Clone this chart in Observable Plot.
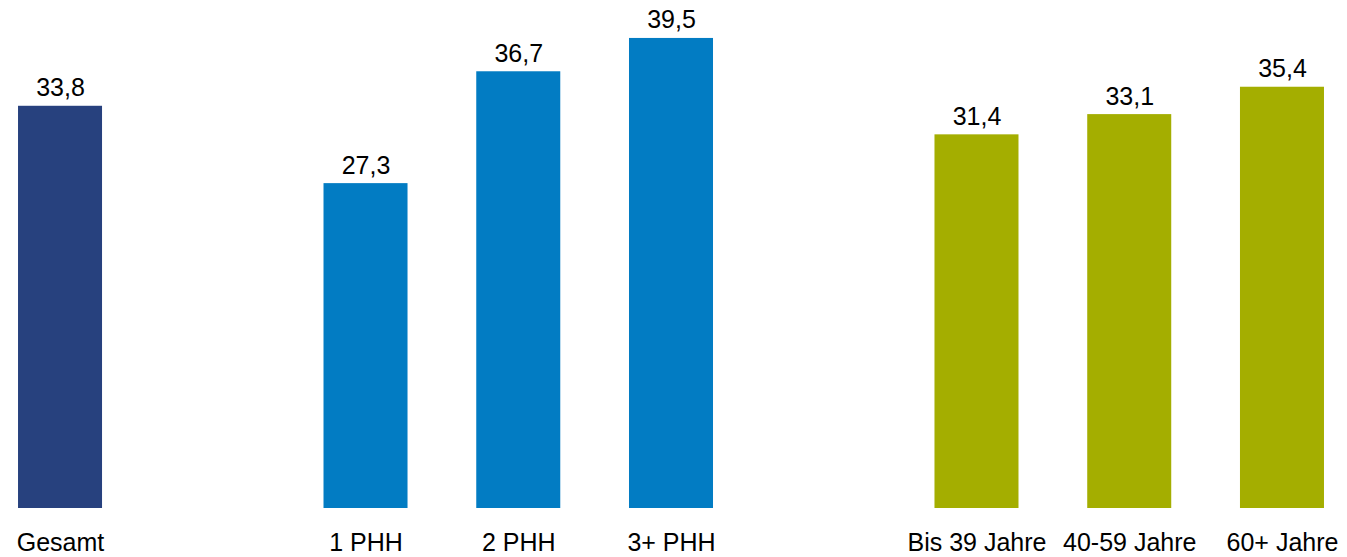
<!DOCTYPE html>
<html>
<head>
<meta charset="utf-8">
<script src="https://cdn.jsdelivr.net/npm/d3@7"></script>
<script src="https://cdn.jsdelivr.net/npm/@observablehq/plot@0.6"></script>
<style>
  html, body { margin: 0; padding: 0; background: #fff; }
  #chart svg { display: block; }
</style>
</head>
<body>
<div id="chart"></div>
<script>
const categories = ["Gesamt", "_gap1", "1 PHH", "2 PHH", "3+ PHH", "_gap2", "Bis 39 Jahre", "40-59 Jahre", "60+ Jahre"];
const barCategories = ["Gesamt", "1 PHH", "2 PHH", "3+ PHH", "Bis 39 Jahre", "40-59 Jahre", "60+ Jahre"];
const values = [33.8, 27.3, 36.7, 39.5, 31.4, 33.1, 35.4];
const groups = ["gesamt", "haushalt", "haushalt", "haushalt", "alter", "alter", "alter"];
const groupNames = ["gesamt", "haushalt", "alter"];
const groupColors = ["#27417E", "#027CC3", "#A4AE00"];

const data = barCategories.map((c, i) => ({category: c, value: values[i], group: groups[i]}));
const fmt = d => d.toFixed(1).replace(".", ",");

const chart = Plot.plot({
  width: 1347,
  height: 557,
  marginTop: 0,
  marginBottom: 49,
  marginLeft: 0,
  marginRight: 0,
  style: {fontFamily: "'Liberation Sans', Arial, sans-serif", color: "#000", background: "#fff"},
  x: {type: "band", domain: categories, range: [0, 1342], paddingInner: 0.45, paddingOuter: 0.118, round: false, label: null},
  y: {domain: [0, 508 / 11.9], axis: null},
  color: {domain: groupNames, range: groupColors},
  marks: [
    Plot.barY(data, {x: "category", y: "value", fill: "group"}),
    Plot.text(data, {x: "category", y: "value", text: d => fmt(d.value), dy: -10, lineAnchor: "bottom", fontSize: 25, fill: "#000"}),
    Plot.axisX({tickSize: 0, tickPadding: 25, fontSize: 25, label: null, tickFormat: d => d.startsWith("_") ? "" : d})
  ]
});
document.getElementById("chart").appendChild(chart);
</script>
</body>
</html>
